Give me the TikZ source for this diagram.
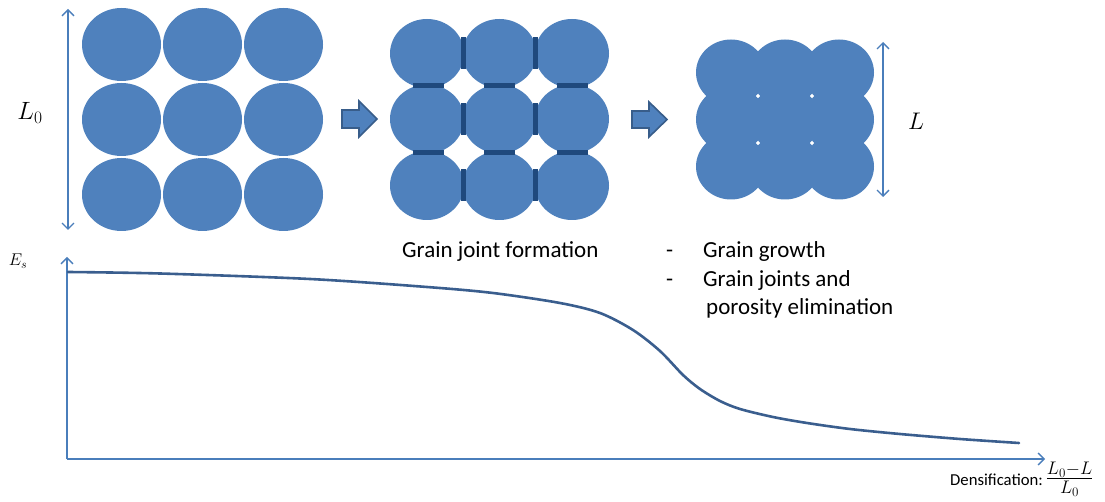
\RequirePackage{fix-cm}
\documentclass[tikz,border=0pt]{standalone}
\usepackage[no-math]{fontspec}
\setmainfont{Carlito}
\usetikzlibrary{arrows.meta}
\definecolor{grain}{HTML}{4F81BD}
\definecolor{joint}{HTML}{1F497D}
\definecolor{arrowedge}{HTML}{385D8A}
\definecolor{axisblue}{HTML}{4A7EBB}
\definecolor{curveblue}{HTML}{3A5E8E}
\tikzset{
  dimarrow/.style={axisblue, line width=1.3pt, {Straight Barb[length=6pt,width=12pt]}-{Straight Barb[length=6pt,width=12pt]}},
  axisline/.style={axisblue, line width=1.3pt, -{Straight Barb[length=6pt,width=12pt]}},
  blockarrow/.style={fill=grain, draw=arrowedge, line width=1.6pt, line join=miter},
  jointbar/.style={fill=joint},
  label/.style={font=\fontsize{23}{27}\selectfont, inner sep=0pt, anchor=base west},
}
\begin{document}
\begin{tikzpicture}[x=1pt,y=-1pt]
\useasboundingbox (0,0) rectangle (1105,502);

% loose powder: separate grains
\foreach \cx in {121.5,202.5,283.5}
  \foreach \cy in {44.5,119.5,194.5}
    \fill[grain] (\cx,\cy) ellipse [x radius=39.5pt, y radius=36.5pt];

% initial length
\coordinate (l0top) at (68,9);
\coordinate (l0bot) at (68,230);
\draw[dimarrow] (l0top) -- (l0bot);
\node[font=\fontsize{25}{30}\selectfont, inner sep=0pt] (l0lbl) at (30,113) {$L_0$};

% first stage arrow
\filldraw[blockarrow] (342,110) -- (359,110) -- (359,101) -- (377,119) -- (359,137) -- (359,128) -- (342,128) -- cycle;

% neck formation between grains
\foreach \cx in {427,499.5,572}
  \foreach \cy in {53.5,119,185.5}
    \fill[grain] (\cx,\cy) ellipse [x radius=37pt, y radius=34.5pt];
\foreach \bx in {463.5,535.5}
  \foreach \cy in {53.5,119,185.5}
    \fill[jointbar] (\bx-2.5,\cy-16) rectangle (\bx+2.5,\cy+16);
\foreach \cx in {428.5,499.5,572}
  \foreach \by in {85.5,152.5}
    \fill[jointbar] (\cx-15.5,\by-2.5) rectangle (\cx+15.5,\by+2.5);

% second stage arrow
\filldraw[blockarrow] (632,111) -- (649,111) -- (649,102) -- (667,119.5) -- (649,137) -- (649,128) -- (632,128) -- cycle;

% densified compact
\foreach \cx in {731,785,839}
  \foreach \cy in {72.5,119.5,166.5}
    \fill[grain] (\cx,\cy) ellipse [x radius=35pt, y radius=33pt];

% final length
\coordinate (ltop) at (883,42);
\coordinate (lbot) at (883,197);
\draw[dimarrow] (ltop) -- (lbot);
\node[font=\fontsize{24}{28}\selectfont, inner sep=0pt] (llbl) at (916,121) {$L$};

% stage captions
\node[label] (joints) at (402,258) {Grain joint formation};
\node[label] (dash1) at (666,258) {-};
\node[label] (growth) at (703,258) {Grain growth};
\node[label] (dash2) at (666,287) {-};
\node[label] (elim1) at (703,287) {Grain joints and};
\node[label] (elim2) at (706,315) {porosity elimination};

% energy versus densification
\coordinate (origin) at (67,459);
\coordinate (ymax) at (67,257);
\coordinate (xmax) at (1045,459);
\draw[axisline] (origin) -- (ymax);
\draw[axisline] (origin) -- (xmax);
\node[font=\fontsize{17}{20}\selectfont, inner sep=0pt] (eslbl) at (18,261) {$E_s$};
\node[font=\fontsize{16.7}{20}\selectfont, inner sep=0pt, anchor=base west] (xlbl) at (950,485)
  {Densification:\,{\fontsize{26}{29}\selectfont$\frac{L_0-L}{L_0}$}};

\draw[curveblue, line width=2.6pt, line cap=round] plot[smooth, tension=0.5] coordinates {
  (68,272) (160,273.5) (310,279) (427,287) (493,293) (560,303) (600,313)
  (633,330) (660,351) (683,375) (700,389) (720,401) (740,409) (773,417)
  (807,423) (850,429) (900,434) (960,439) (1019,443)};
\end{tikzpicture}
\end{document}
